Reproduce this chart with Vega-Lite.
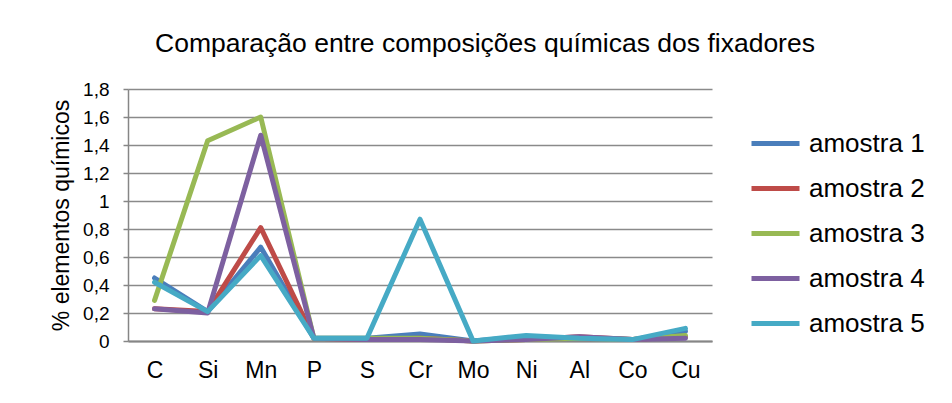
{
  "$schema": "https://vega.github.io/schema/vega-lite/v6.json",
  "width": 584,
  "height": 252,
  "autosize": {"type": "none"},
  "padding": {"left": 128, "top": 89, "right": 240, "bottom": 62},
  "background": "white",
  "title": {"text": "Comparação entre composições químicas dos fixadores", "font": "Liberation Sans", "fontSize": 26.5, "fontWeight": "normal", "color": "#000000", "anchor": "middle", "dx": 65, "offset": 23},
  "config": {"view": {"stroke": null}},
  "data": {"values": [
    {"el": "C", "s": "amostra 1", "v": 0.45}, {"el": "Si", "s": "amostra 1", "v": 0.21}, {"el": "Mn", "s": "amostra 1", "v": 0.67}, {"el": "P", "s": "amostra 1", "v": 0.02}, {"el": "S", "s": "amostra 1", "v": 0.02}, {"el": "Cr", "s": "amostra 1", "v": 0.05}, {"el": "Mo", "s": "amostra 1", "v": 0.0}, {"el": "Ni", "s": "amostra 1", "v": 0.03}, {"el": "Al", "s": "amostra 1", "v": 0.02}, {"el": "Co", "s": "amostra 1", "v": 0.01}, {"el": "Cu", "s": "amostra 1", "v": 0.07},
    {"el": "C", "s": "amostra 2", "v": 0.23}, {"el": "Si", "s": "amostra 2", "v": 0.21}, {"el": "Mn", "s": "amostra 2", "v": 0.81}, {"el": "P", "s": "amostra 2", "v": 0.02}, {"el": "S", "s": "amostra 2", "v": 0.01}, {"el": "Cr", "s": "amostra 2", "v": 0.02}, {"el": "Mo", "s": "amostra 2", "v": 0.0}, {"el": "Ni", "s": "amostra 2", "v": 0.01}, {"el": "Al", "s": "amostra 2", "v": 0.03}, {"el": "Co", "s": "amostra 2", "v": 0.01}, {"el": "Cu", "s": "amostra 2", "v": 0.03},
    {"el": "C", "s": "amostra 3", "v": 0.29}, {"el": "Si", "s": "amostra 3", "v": 1.43}, {"el": "Mn", "s": "amostra 3", "v": 1.6}, {"el": "P", "s": "amostra 3", "v": 0.02}, {"el": "S", "s": "amostra 3", "v": 0.02}, {"el": "Cr", "s": "amostra 3", "v": 0.02}, {"el": "Mo", "s": "amostra 3", "v": 0.0}, {"el": "Ni", "s": "amostra 3", "v": 0.01}, {"el": "Al", "s": "amostra 3", "v": 0.02}, {"el": "Co", "s": "amostra 3", "v": 0.01}, {"el": "Cu", "s": "amostra 3", "v": 0.04},
    {"el": "C", "s": "amostra 4", "v": 0.23}, {"el": "Si", "s": "amostra 4", "v": 0.2}, {"el": "Mn", "s": "amostra 4", "v": 1.47}, {"el": "P", "s": "amostra 4", "v": 0.02}, {"el": "S", "s": "amostra 4", "v": 0.01}, {"el": "Cr", "s": "amostra 4", "v": 0.01}, {"el": "Mo", "s": "amostra 4", "v": 0.0}, {"el": "Ni", "s": "amostra 4", "v": 0.01}, {"el": "Al", "s": "amostra 4", "v": 0.03}, {"el": "Co", "s": "amostra 4", "v": 0.01}, {"el": "Cu", "s": "amostra 4", "v": 0.02},
    {"el": "C", "s": "amostra 5", "v": 0.42}, {"el": "Si", "s": "amostra 5", "v": 0.21}, {"el": "Mn", "s": "amostra 5", "v": 0.61}, {"el": "P", "s": "amostra 5", "v": 0.02}, {"el": "S", "s": "amostra 5", "v": 0.02}, {"el": "Cr", "s": "amostra 5", "v": 0.87}, {"el": "Mo", "s": "amostra 5", "v": 0.0}, {"el": "Ni", "s": "amostra 5", "v": 0.04}, {"el": "Al", "s": "amostra 5", "v": 0.02}, {"el": "Co", "s": "amostra 5", "v": 0.01}, {"el": "Cu", "s": "amostra 5", "v": 0.09}
  ]},
  "mark": {"type": "line", "strokeWidth": 5, "strokeCap": "round", "strokeJoin": "round"},
  "encoding": {
    "x": {"field": "el", "type": "ordinal", "sort": ["C", "Si", "Mn", "P", "S", "Cr", "Mo", "Ni", "Al", "Co", "Cu"], "scale": {"type": "point", "padding": 0.5},
      "axis": {"title": null, "labelAngle": 0, "labelFont": "Liberation Sans", "labelFontSize": 23, "labelColor": "#000000", "labelPadding": 18, "ticks": false, "domain": true, "domainColor": "#868686", "domainWidth": 2, "grid": false}},
    "y": {"field": "v", "type": "quantitative", "scale": {"domain": [0, 1.8], "nice": false},
      "axis": {"title": "% elementos químicos", "titleFont": "Liberation Sans", "titleFontSize": 23, "titleFontWeight": "normal", "titleColor": "#000000", "titlePadding": 9,
        "values": [0, 0.2, 0.4, 0.6, 0.8, 1, 1.2, 1.4, 1.6, 1.8], "labelExpr": "replace(format(datum.value, '.1~f'), '.', ',')",
        "labelFont": "Liberation Sans", "labelFontSize": 19, "labelColor": "#000000", "labelPadding": 14, "ticks": true, "tickSize": 5, "tickColor": "#868686", "tickWidth": 1.5, "domain": true, "domainColor": "#868686", "domainWidth": 1.5, "grid": true, "gridColor": "#8a8a8a", "gridWidth": 1.5}},
    "color": {"field": "s", "type": "nominal", "scale": {"domain": ["amostra 1", "amostra 2", "amostra 3", "amostra 4", "amostra 5"], "range": ["#4A7EBB", "#BE4B48", "#98B954", "#7D60A0", "#46AAC5"]},
      "legend": {"title": null, "orient": "none", "legendX": 621, "legendY": 40, "padding": 0, "symbolType": "M-1,0H3", "symbolFillColor": "transparent", "symbolStrokeWidth": 5, "symbolSize": 576, "labelFont": "Liberation Sans", "labelFontSize": 26, "labelColor": "#000000", "rowPadding": 17, "labelOffset": 31}}
  }
}
